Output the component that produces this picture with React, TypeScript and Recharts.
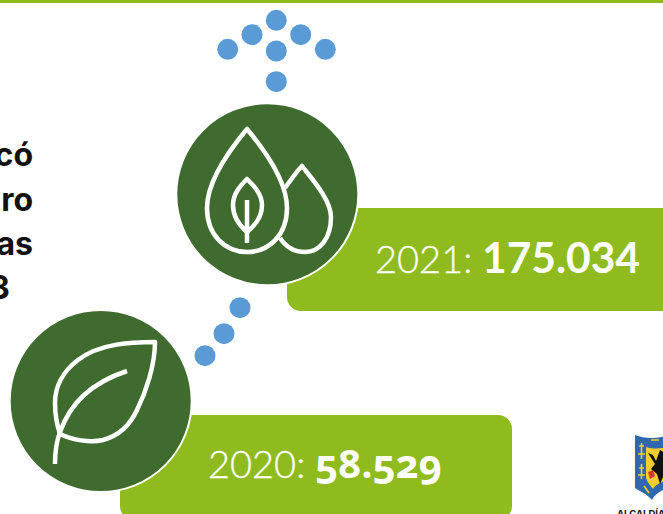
import React from "react";
import { ScatterChart, Scatter, XAxis, YAxis } from "recharts";

const W = 663;
const H = 514;
const GREEN = "#8FBB1F";
const DARK = "#3F6B2F";
const BLUE = "#5B9BD5";

// Figures shown on the cards
const years = ["2021", "2020"];
const values = ["175.034", "58.529"];
const cardX = [287, 120];
const cardY = [208, 415];
const cardWidth = [390, 392];
const cardHeight = [103, 105];

// Round icon badges
const badgeX = [267.3, 100.7];
const badgeY = [194.3, 401];
const badgeIcon = ["drops", "leaf"];

// Blue dots: arrow head, stem and connector
const dotX = [276.3, 252, 300.7, 227.7, 276.3, 325.3, 276.3, 240, 224, 205];
const dotY = [20.3, 34.7, 34.7, 49.3, 51, 49.3, 81.7, 307.7, 333.7, 355.7];

// Cropped paragraph on the left edge
const paragraph = ["có", "ro", "as", "3"];
const paragraphRight = [33, 33, 33, 10];
const paragraphBase = [166, 211, 255, 299];

const cards = years.map((year, i) => ({
  x: cardX[i], y: cardY[i], w: cardWidth[i], h: cardHeight[i], year, value: values[i],
}));
const badges = badgeX.map((x, i) => ({ x, y: badgeY[i], icon: badgeIcon[i] }));
const dots = dotX.map((x, i) => ({ x, y: dotY[i] }));
const lines = paragraph.map((label, i) => ({ x: paragraphRight[i], y: paragraphBase[i], label }));
const topBar = [{ x: 0, y: 0 }];
const logo = [{ x: 635, y: 434 }];

const CardShape = (p: any) => {
  const { cx, cy, payload } = p;
  const w = payload.w, h = payload.h, r = 14;
  const d = `M${cx} ${cy}H${cx + w - r}a${r} ${r} 0 0 1 ${r} ${r}V${cy + h - r}a${r} ${r} 0 0 1 ${-r} ${r}H${cx + r}a${r} ${r} 0 0 1 ${-r} ${-r}Z`;
  const first = payload.year === "2021";
  const x = first ? 375 : 208;
  const y = first ? 273 : 478;
  return (
    <g>
      <path d={d} fill={GREEN} />
      <text x={x} y={y} fill="#fff" stroke="#fff" strokeWidth={0.3} fontFamily="Lato, sans-serif" fontWeight={300} fontSize={38}>
        {payload.year}:
      </text>
      <text
        x={first ? 482 : 315}
        y={y}
        fill="#fff"
        fontFamily={first ? "Lato, sans-serif" : "'Open Sans', sans-serif"}
        fontWeight={700}
        fontSize={first ? 42.5 : 40}
        style={first ? undefined : { fontFeatureSettings: '"onum"' }}
      >
        {payload.value}
      </text>
    </g>
  );
};

const BadgeShape = (p: any) => {
  const { cx, cy, payload } = p;
  const stroke = { fill: "none", stroke: "#fff", strokeWidth: 4.5, strokeLinejoin: "round" as const };
  return (
    <g>
      <circle cx={cx} cy={cy} r={91} fill={DARK} stroke="#fff" strokeWidth={2} />
      {payload.icon === "drops" ? (
        <g transform={`translate(${cx - 267.3} ${cy - 194.3})`} {...stroke}>
          <path d="M247 129C232 147 207 180 207 208C207 235 225 252 247 252C269 252 287 235 287 208C287 180 262 147 247 129Z" />
          <path d="M285 188C291 180 296 172 302 166C312 179 331 200 331 217C331 238 320 252 305 252C294 252 286 247 280 238" />
          <path d="M247 179C240 186 233 194 233 205C233 218 240 226 247 232C254 226 262 218 262 205C262 194 254 186 247 179Z" />
          <path d="M247 200V243" />
        </g>
      ) : (
        <g transform={`translate(${cx - 100.7} ${cy - 401})`} {...stroke}>
          <path d="M155 342C133 342 100 343 78 360C62 372 55 388 55 403C55 415 57 425 60 434C72 440 90 443 103 440C118 436 130 425 137 410C146 392 155 365 155 342Z" />
          <path d="M55 464C55 448 57 440 60 432C65 418 72 406 84 395C96 384 112 376 127 371" />
        </g>
      )}
    </g>
  );
};

const DotShape = (p: any) => <circle cx={p.cx} cy={p.cy} r={10.5} fill={BLUE} />;

const LineShape = (p: any) => (
  <text
    x={p.cx}
    y={p.cy}
    textAnchor="end"
    fontFamily="Inter, sans-serif"
    fontWeight={700}
    fontSize={32}
    fill="#111"
  >
    {p.payload.label}
  </text>
);

const BarShape = (p: any) => <rect x={p.cx} y={p.cy} width={W} height={3} fill={GREEN} />;

const LogoShape = (p: any) => {
  const { cx, cy } = p;
  return (
    <g transform={`translate(${cx} ${cy})`}>
      <path d="M0 1C10 5 22 5 34 1V54C26 56 20 60 17 66C12 60 6 58 0 54Z" fill="#2F68AE" />
      <path d="M11 13C18 15 24 15 34 13V46C26 48 21 50 18 55C15 51 12 48 11 44Z" fill="#F2CE2E" />
      <path d="M4 12H9M6.5 9V25M3 20H10M4 34H9M6.5 30V45M3 41H10M9 52L14 59M16 6H24M28 5H34" stroke="#F2CE2E" strokeWidth={1.6} fill="none" />
      <path d="M13 19L18 21L21 27L25 16L30 19L34 14V41L28 43L25 50L22 40L16 35L20 30Z" fill="#111" />
      <path d="M13 38L18 36L20 42L15 45Z" fill="#D8382C" />
      <text x={-18} y={83} fontFamily="Inter, sans-serif" fontWeight={700} fontSize={9.5} fill="#111">ALCALDÍA</text>
    </g>
  );
};

export default function App() {
  return (
    <div style={{ position: "absolute", left: 0, top: 0, width: W, height: H, overflow: "hidden", background: "#fff" }}>
      <ScatterChart width={W} height={H} margin={{ top: 0, right: 0, bottom: 0, left: 0 }}>
        <XAxis type="number" dataKey="x" domain={[0, W]} hide />
        <YAxis type="number" dataKey="y" domain={[0, H]} reversed hide />
        <Scatter data={topBar} shape={BarShape} isAnimationActive={false} />
        <Scatter data={lines} shape={LineShape} isAnimationActive={false} />
        <Scatter data={cards} shape={CardShape} isAnimationActive={false} />
        <Scatter data={badges} shape={BadgeShape} isAnimationActive={false} />
        <Scatter data={dots} shape={DotShape} isAnimationActive={false} />
        <Scatter data={logo} shape={LogoShape} isAnimationActive={false} />
      </ScatterChart>
    </div>
  );
}
